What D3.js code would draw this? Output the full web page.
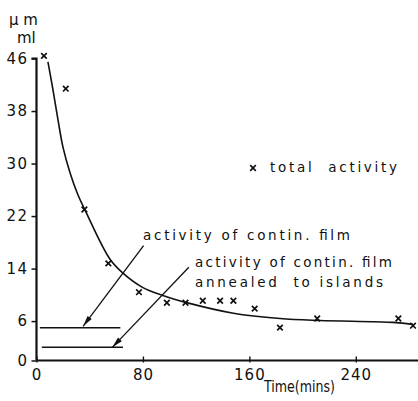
<!DOCTYPE html>
<html><head><meta charset="utf-8">
<script src="https://cdn.jsdelivr.net/npm/d3@7/dist/d3.min.js"></script>
<style>body{margin:0;background:#fff}svg{display:block}text{font-family:"DejaVu Sans",sans-serif;fill:#111}</style>
</head><body><svg id="c" width="418" height="401"></svg>
<script>
// total activity measurements (time in mins, activity in µm/ml)
const pointTimes  = [5.6, 22, 36, 54, 77, 98, 112, 125, 138, 148, 164, 183, 211, 272, 283];
const pointValues = [46.4, 41.4, 23, 14.8, 10.4, 8.8, 8.8, 9.1, 9.1, 9.1, 7.9, 5.0, 6.4, 6.4, 5.3];
// fitted curve through the total activity
const curveTimes  = [8.6, 12.4, 16.2, 19.9, 25.2, 31.2, 36.5, 55, 65, 80, 95, 115, 148, 183, 213, 268, 283];
const curveValues = [45.5, 41.2, 36.6, 32.5, 28.6, 25.2, 22.9, 15.5, 13.3, 11.1, 9.9, 8.7, 7.2, 6.4, 6.1, 5.8, 5.5];
// horizontal levels
const levelNames  = ["activity of contin. film", "activity of contin. film annealed to islands"];
const levelValues = [5.0, 2.0];
const levelStart  = [2.5, 4];
const levelEnd    = [63, 65];
// arrows (label -> level)
const arrowFromT = [80.5, 114.5], arrowFromV = [17.5, 14.2];
const arrowToT   = [35, 57],      arrowToV   = [5.2, 2.0];
const yTicks = [0, 6, 14, 22, 30, 38, 46];
const xTicks = [0, 80, 160, 240];

const svg = d3.select("#c");
const x = d3.scaleLinear().domain([0, 280]).range([36.5, 409]);
const y = d3.scaleLinear().domain([0, 46]).range([360.5, 58.5]);

// axes
const yAxis = d3.axisLeft(y).tickValues(yTicks).tickSize(5).tickPadding(3);
const gy = svg.append("g").attr("transform", `translate(${x(0)},0)`).call(yAxis);
gy.select(".domain").attr("stroke", "#111").attr("stroke-width", 2.2).attr("d", `M-5,${y(46)}H0V${y(0)}`);
gy.selectAll(".tick line").attr("stroke", "#111").attr("stroke-width", 1.5);
gy.selectAll(".tick text").style("font-size", "15px").style("letter-spacing", "1.5px").attr("fill", "#111");

const xAxis = d3.axisBottom(x).tickValues(xTicks).tickSize(4).tickPadding(8);
const gx = svg.append("g").attr("transform", `translate(0,${y(0)})`).call(xAxis);
gx.select(".domain").attr("stroke", "#111").attr("stroke-width", 1.8).attr("d", `M${x(0)},0H418`);
gx.selectAll(".tick line").attr("stroke", "#111").attr("stroke-width", 1.4).attr("y1", -4).attr("y2", 2);
gx.selectAll(".tick text").style("font-size", "15px").style("letter-spacing", "1px")
  .attr("fill", "#111").attr("dy", null).attr("y", 19.5);

// axis titles
svg.append("text").attr("x", 9).attr("y", 25).style("font-size", "15px").text("μ m");
svg.append("text").attr("x", 17).attr("y", 43).style("font-size", "15px").text("ml");
svg.append("text").attr("x", 264).attr("y", 392).style("font-size", "15px")
  .attr("textLength", 71).attr("lengthAdjust", "spacingAndGlyphs").text("Time(mins)");

// curve
const line = d3.line().x(d => x(d[0])).y(d => y(d[1])).curve(d3.curveCatmullRom.alpha(0.5));
svg.append("path").datum(curveTimes.map((t, i) => [t, curveValues[i]]))
  .attr("d", line).attr("fill", "none").attr("stroke", "#111").attr("stroke-width", 1.6);

// points
const s = 2.8;
const pts = svg.append("g").selectAll("g").data(pointTimes.map((t, i) => [t, pointValues[i]])).join("g")
  .attr("transform", d => `translate(${x(d[0])},${y(d[1])})`);
pts.append("path").attr("d", `M${-s},${-s}L${s},${s}M${s},${-s}L${-s},${s}`)
  .attr("stroke", "#111").attr("stroke-width", 1.7);

// levels
levelValues.forEach((v, i) => {
  svg.append("line").attr("x1", x(levelStart[i])).attr("x2", x(levelEnd[i]))
    .attr("y1", y(v)).attr("y2", y(v)).attr("stroke", "#111").attr("stroke-width", 1.5);
});

// arrows
arrowFromT.forEach((t, i) => {
  const x1 = x(t), y1 = y(arrowFromV[i]), x2 = x(arrowToT[i]), y2 = y(arrowToV[i]);
  svg.append("line").attr("x1", x1).attr("y1", y1).attr("x2", x2).attr("y2", y2)
    .attr("stroke", "#111").attr("stroke-width", 1.3);
  const ang = Math.atan2(y2 - y1, x2 - x1), L = 11, W = 2.6;
  const bx = x2 - L * Math.cos(ang), by = y2 - L * Math.sin(ang);
  const px = -Math.sin(ang) * W, py = Math.cos(ang) * W;
  svg.append("path").attr("d", `M${x2},${y2}L${bx + px},${by + py}L${bx - px},${by - py}Z`).attr("fill", "#111");
});

// labels
const lab = (tx, ty, txt, len) => svg.append("text").attr("x", tx).attr("y", ty)
  .style("font-size", "13.5px").attr("textLength", len).attr("lengthAdjust", "spacing").text(txt);
lab(143, 240, levelNames[0], 207);
lab(195, 267, "activity of contin. film", 197);
lab(195, 287, "annealed  to islands", 188).style("white-space", "pre");

// legend
svg.append("path").attr("transform", "translate(253,168)")
  .attr("d", `M${-s},${-s}L${s},${s}M${s},${-s}L${-s},${s}`).attr("stroke", "#111").attr("stroke-width", 1.7);
lab(270, 172, "total  activity", 127).style("white-space", "pre");
</script></body></html>
